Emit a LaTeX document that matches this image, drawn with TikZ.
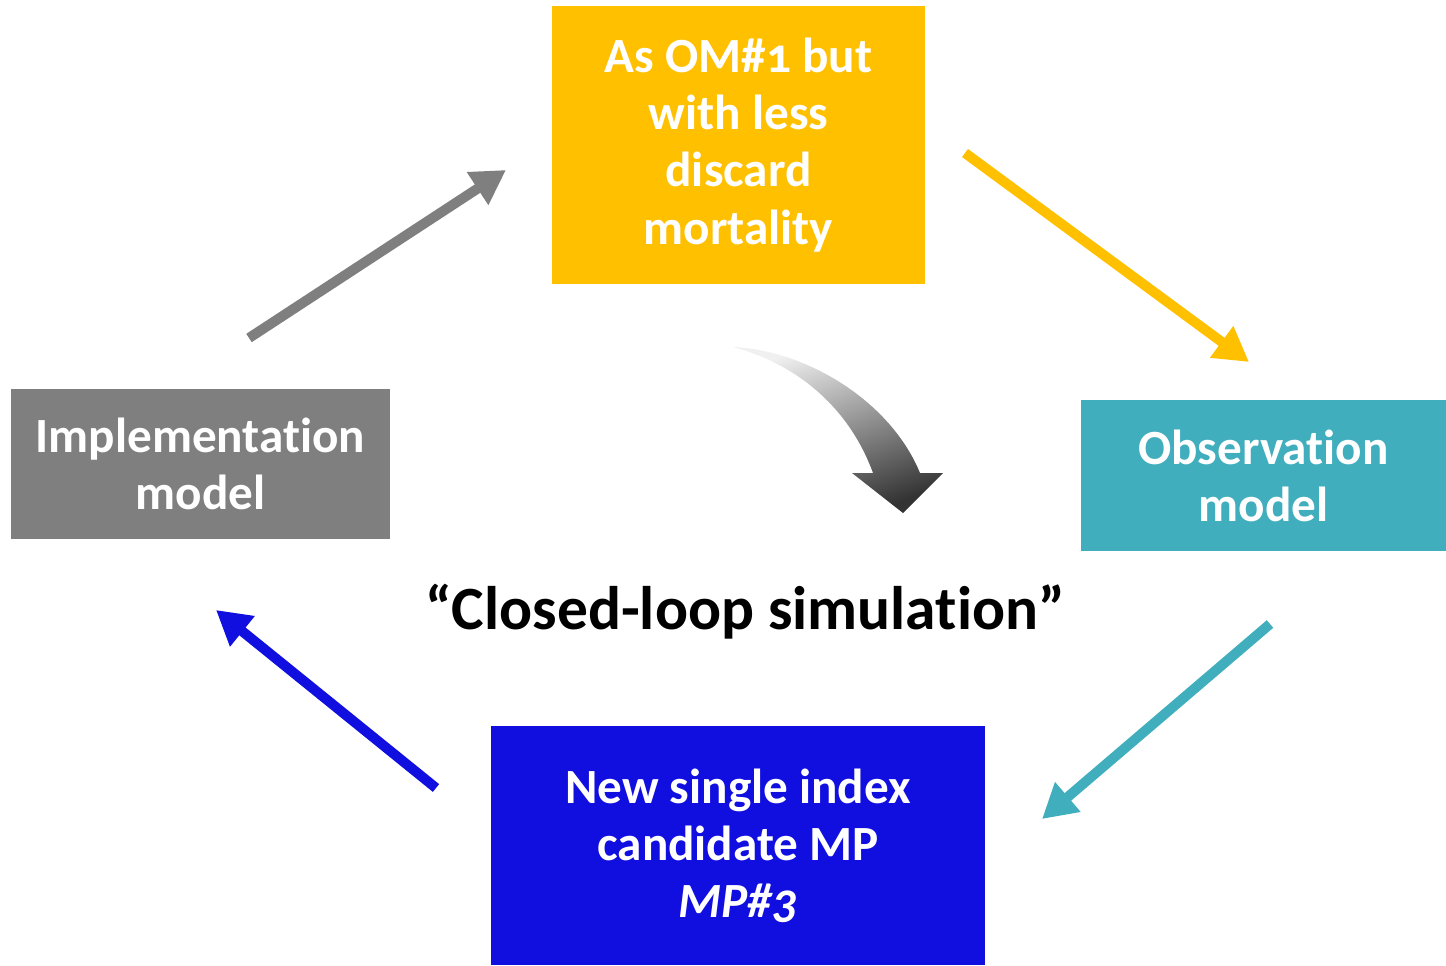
\documentclass[tikz,border=0pt]{standalone}
\usepackage{fontspec}
\setmainfont{Carlito}[Numbers=OldStyle, Ligatures={NoCommon,NoContextual}]
\usetikzlibrary{arrows.meta}
\definecolor{omyellow}{HTML}{FFC000}
\definecolor{obsteal}{HTML}{41AEBD}
\definecolor{impgray}{HTML}{7F7F7F}
\definecolor{mpblue}{HTML}{110EE0}
\tikzset{
  box/.style={rectangle, inner sep=0pt, align=center, text=white,
    font=\fontsize{28}{32.5}\selectfont\bfseries},
  flow/.style={line width=0.2cm, -{Triangle[length=0.68cm,width=0.74cm]}}
}
\begin{document}
\begin{tikzpicture}[x=0.02cm, y=-0.02cm]
            \useasboundingbox (0,0) rectangle (1446,966);
            % boxes
            \node[box, fill=omyellow, minimum width=7.46cm, minimum height=5.56cm] (om) at (738.5,145)
              {As OM\#1 but\\with less\\discard\\mortality};
            \node[box, fill=impgray, minimum width=7.58cm, minimum height=3cm] (impl) at (200.5,464)
              {Implementation\\model};
            \node[box, fill=obsteal, minimum width=7.3cm, minimum height=3.02cm] (obs) at (1263.5,475.5)
              {Observation\\model};
            \node[box, fill=mpblue, minimum width=9.88cm, minimum height=4.78cm] (mp) at (738,845.5)
              {New single index\\candidate MP\\\textit{MP\#3}};
            \node[font=\fontsize{35}{40}\selectfont\bfseries] (loop) at (745,612)
              {“Closed-loop simulation”};
            % define point
            \coordinate (A1) at (249,338);
            \coordinate (A2) at (506,170);
            \coordinate (B1) at (965,153);
            \coordinate (B2) at (1249,362);
            \coordinate (C1) at (1270,624);
            \coordinate (C2) at (1042,819);
            \coordinate (D1) at (436,788);
            \coordinate (D2) at (216,610);
            % arrows
            \draw[flow, impgray] (A1) -- (A2);
            \draw[flow, omyellow] (B1) -- (B2);
            \draw[flow, obsteal] (C1) -- (C2);
            \draw[flow, mpblue] (D1) -- (D2);
            % curved arrow
            \shade[top color=black!6, bottom color=black!80, shading angle=20]
              (733,347) .. controls (805,350) and (890,400) .. (920,473) -- (943,473) -- (903,513)
              -- (852,473) -- (873,473) .. controls (850,410) and (800,365) .. (733,347) -- cycle;
        \end{tikzpicture}
\end{document}
